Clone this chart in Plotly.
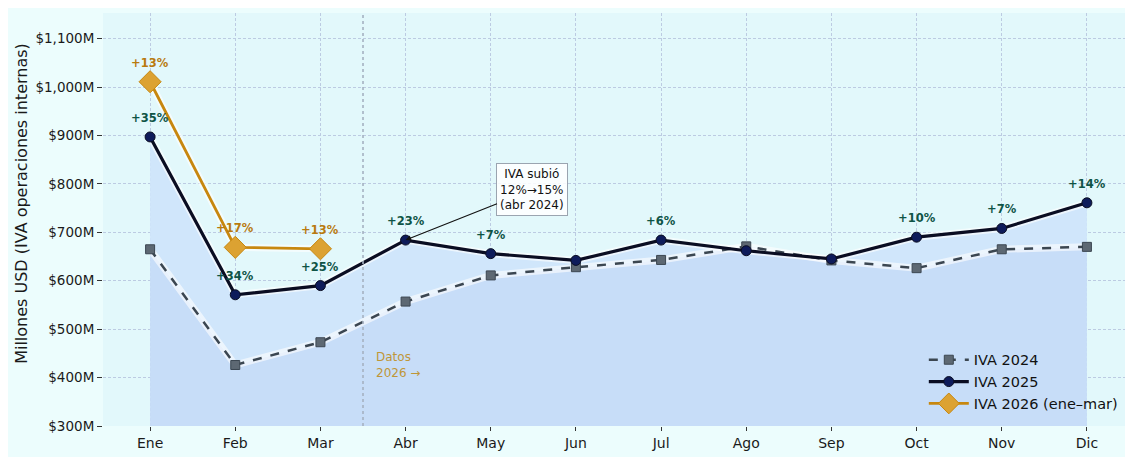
import plotly.graph_objects as go

months = ["Ene", "Feb", "Mar", "Abr", "May", "Jun", "Jul", "Ago", "Sep", "Oct", "Nov", "Dic"]
iva_2024 = [665, 426, 473, 557, 611, 628, 643, 671, 642, 626, 665, 670]
iva_2025 = [897, 571, 590, 684, 656, 642, 684, 662, 645, 690, 708, 761]
months_2026 = ["Ene", "Feb", "Mar"]
iva_2026 = [1011, 669, 666]
labels_2025 = ["+35%", "+34%", "+25%", "+23%", "+7%", "", "+6%", "", "", "+10%", "+7%", "+14%"]
labels_2026 = ["+13%", "+17%", "+13%"]
y_ticks = [300, 400, 500, 600, 700, 800, 900, 1000, 1100]
y_tick_text = ["$300M", "$400M", "$500M", "$600M", "$700M", "$800M", "$900M", "$1,000M", "$1,100M"]

FONT = "DejaVu Sans"
C24, C24M = "#3b4651", "#5d6873"
C25, C25M = "#0a0d22", "#0e1b5a"
C26, C26M = "#c7870f", "#dca232"
GREEN = "#0f5446"

x_idx = list(range(len(months)))
x26 = [months.index(m) for m in months_2026]

fig = go.Figure()

# fills
fig.add_trace(go.Scatter(x=x_idx, y=iva_2024, mode="lines", line=dict(width=0, color="rgba(0,0,0,0)"),
                         fill="tozeroy", fillcolor="#c7ddf8", showlegend=False, hoverinfo="skip"))
fig.add_trace(go.Scatter(x=x_idx, y=iva_2025, mode="lines", line=dict(width=0, color="rgba(0,0,0,0)"),
                         fill="tonexty", fillcolor="#d0e6fb", showlegend=False, hoverinfo="skip"))

# halos
for xs, ys in [(x_idx, iva_2024), (x_idx, iva_2025), (x26, iva_2026)]:
    fig.add_trace(go.Scatter(x=xs, y=ys, mode="lines", line=dict(width=7, color="rgba(255,255,255,0.6)"),
                             showlegend=False, hoverinfo="skip"))

fig.add_trace(go.Scatter(x=x_idx, y=iva_2024, mode="lines+markers", name="IVA 2024",
                         line=dict(color=C24, width=2.5, dash="dash"),
                         marker=dict(symbol="square", size=9, color=C24M, line=dict(color=C24, width=1))))
fig.add_trace(go.Scatter(x=x_idx, y=iva_2025, mode="lines+markers", name="IVA 2025",
                         line=dict(color=C25, width=3.2),
                         marker=dict(symbol="circle", size=10, color=C25M, line=dict(color=C25, width=1))))
fig.add_trace(go.Scatter(x=x26, y=iva_2026, mode="lines+markers", name="IVA 2026 (ene–mar)",
                         line=dict(color=C26, width=2.8),
                         marker=dict(symbol="diamond", size=17, color=C26M, line=dict(color=C26, width=1))))

ann = []
for i, (v, t) in enumerate(zip(iva_2025, labels_2025)):
    if t:
        ann.append(dict(x=i, y=v, text=f"<b>{t}</b>", showarrow=False, yshift=19,
                        font=dict(family=FONT, size=11.5, color=GREEN)))
for i, v, t in zip(x26, iva_2026, labels_2026):
    ann.append(dict(x=i, y=v, text=f"<b>{t}</b>", showarrow=False, yshift=19,
                    font=dict(family=FONT, size=11.5, color="#b97a0e")))

ann.append(dict(x=3, y=iva_2025[3], ax=4.49, ay=788, axref="x", ayref="y",
                text="IVA subió<br>12%→15%<br>(abr 2024)", showarrow=True, arrowhead=2, arrowsize=1,
                arrowwidth=1.1, arrowcolor="#111111", bgcolor="rgba(255,255,255,0.85)",
                bordercolor="#9aa4b0", borderwidth=1, borderpad=3,
                font=dict(family=FONT, size=12, color="#111111")))
ann.append(dict(x=2.63, y=427, text="Datos<br>2026 →", showarrow=False, xanchor="left", align="left",
                font=dict(family=FONT, size=12, color="#bf9638")))
ann.append(dict(x=-0.079, y=0.54, xref="paper", yref="paper", text="Millones USD (IVA operaciones internas)",
                textangle=-90, showarrow=False, xanchor="center", yanchor="middle",
                font=dict(family=FONT, size=16, color="#1a1a1a")))

fig.add_shape(type="line", x0=2.5, x1=2.5, y0=0, y1=1, yref="paper", xref="x",
              line=dict(color="#a5b2c2", width=1.6, dash="dot"))

fig.update_layout(
    width=1133, height=457,
    margin=dict(l=95, r=11, t=5, b=39, autoexpand=False),
    paper_bgcolor="#ecfdfd", plot_bgcolor="#e2f8fb",
    font=dict(family=FONT, size=13, color="#1a1a1a"),
    annotations=ann,
    legend=dict(x=0.993, y=0.015, xanchor="right", yanchor="bottom", bgcolor="rgba(0,0,0,0)",
                font=dict(family=FONT, size=14.5, color="#111111"), traceorder="normal",
                tracegroupgap=0, itemwidth=40),
    showlegend=True,
)
fig.update_xaxes(range=[-0.553, 11.506], tickmode="array", tickvals=x_idx, ticktext=months,
                 showgrid=True, gridcolor="#bccbe2", griddash="3px,2px", gridwidth=1,
                 ticks="outside", ticklen=4, tickcolor="#333", zeroline=False, showline=False,
                 tickfont=dict(size=14), automargin=False)
fig.update_yaxes(range=[300, 1153], tickmode="array", tickvals=y_ticks, ticktext=y_tick_text,
                 showgrid=True, gridcolor="#bccbe2", griddash="3px,2px", gridwidth=1,
                 ticks="outside", ticklen=5, tickcolor="#333", zeroline=False, showline=False,
                 tickfont=dict(size=13.5), automargin=False)

fig.write_html("out.html")
